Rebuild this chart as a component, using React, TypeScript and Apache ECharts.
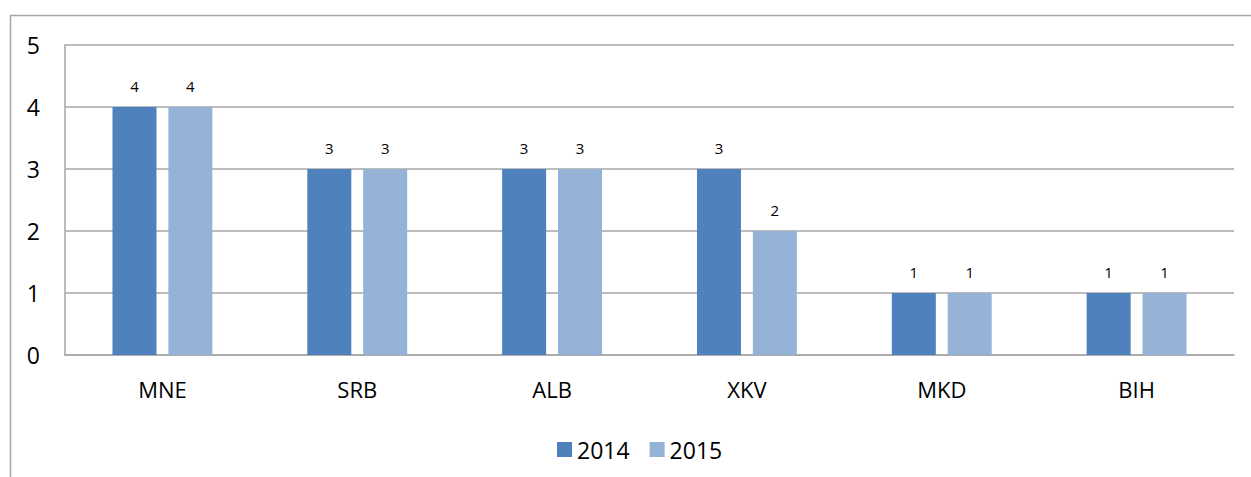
import React, { useEffect, useRef } from "react";
import * as echarts from "echarts";

const categories = ["MNE", "SRB", "ALB", "XKV", "MKD", "BIH"];
const values2014 = [4, 3, 3, 3, 1, 1];
const values2015 = [4, 3, 3, 2, 1, 1];
const seriesNames = ["2014", "2015"];
const yTicks = { min: 0, max: 5, interval: 1 };

export default function App() {
  const ref = useRef<HTMLDivElement>(null);
  useEffect(() => {
    if (!ref.current) return;
    const chart = echarts.init(ref.current, null, { renderer: "svg" });
    const font = "Open Sans";
    const labelStyle = { show: true, position: "top", distance: 14, color: "#000", fontSize: 15, fontFamily: font };
    chart.setOption({
      animation: false,
      backgroundColor: "#fff",
      graphic: [
        {
          type: "rect",
          shape: { x: 10.5, y: 15.5, width: 1400, height: 700 },
          style: { fill: "none", stroke: "#A6A6A6", lineWidth: 1.5 },
          silent: true,
          z: -1,
        },
      ],
      grid: { left: 65, top: 45, right: 17, bottom: 122 },
      legend: {
        left: 552,
        top: 433,
        itemWidth: 15,
        itemHeight: 15,
        itemGap: 20,
        icon: "rect",
        textStyle: { fontSize: 23, fontFamily: font, color: "#000" },
        data: seriesNames,
      },
      xAxis: {
        type: "category",
        data: categories,
        axisLine: { lineStyle: { color: "#A6A6A6", width: 1.5 } },
        axisTick: { show: false },
        axisLabel: { fontSize: 22, fontFamily: font, color: "#000", margin: 23 },
      },
      yAxis: {
        type: "value",
        min: yTicks.min,
        max: yTicks.max,
        interval: yTicks.interval,
        axisLine: { show: true, lineStyle: { color: "#A6A6A6", width: 1.5 } },
        axisTick: { show: false },
        splitLine: { lineStyle: { color: "#A6A6A6", width: 1.5 } },
        axisLabel: { fontSize: 23, fontFamily: font, color: "#000", margin: 25 },
      },
      series: [
        {
          name: seriesNames[0],
          type: "bar",
          data: values2014,
          itemStyle: { color: "#4F81BD" },
          barWidth: 44,
          barGap: "27%",
          label: labelStyle,
        },
        {
          name: seriesNames[1],
          type: "bar",
          data: values2015,
          itemStyle: { color: "#95B3D7" },
          barWidth: 44,
          label: labelStyle,
        },
      ],
    });
    return () => chart.dispose();
  }, []);
  return (
    <div
      ref={ref}
      style={{ position: "absolute", left: 0, top: 0, width: 1251, height: 477 }}
    />
  );
}
